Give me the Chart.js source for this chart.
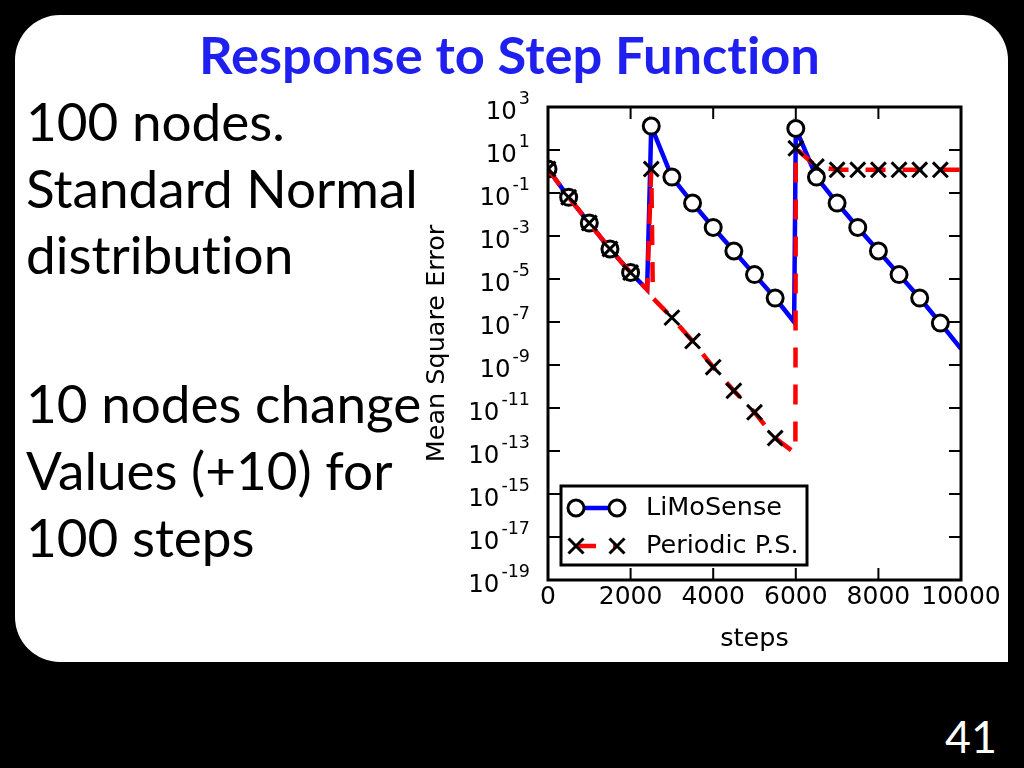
<!DOCTYPE html>
<html>
<head>
<meta charset="utf-8">
<title>Response to Step Function</title>
<script src="https://cdn.jsdelivr.net/npm/chart.js@4.4.1/dist/chart.umd.min.js"></script>
<style>
  html, body { margin: 0; padding: 0; background: #000; }
  body { width: 1024px; height: 768px; position: relative; overflow: hidden; font-family: Lato, "Open Sans", sans-serif; }
  #slide { position: absolute; left: 15px; top: 15px; width: 993px; height: 647px; background: #fff; border-radius: 45px 45px 0 45px; }
  .txt { position: absolute; white-space: nowrap; line-height: 1; font-variant-ligatures: none; font-feature-settings: "liga" 0; }
  #title { color: #1f1fef; font-weight: bold; }
  .body { left: 26px; color: #000; }
  #pageno { color: #fff; }
  #chartBox { position: absolute; left: 420px; top: 85px; width: 590px; height: 575px; }
</style>
</head>
<body>
<div id="slide"></div>
<div id="title" class="txt">Response to Step Function</div>
<div class="txt body" data-base="141">100 nodes.</div>
<div class="txt body" data-base="207.5" id="widest">Standard Normal</div>
<div class="txt body" data-base="274">distribution</div>
<div class="txt body" data-base="423">10 nodes change</div>
<div class="txt body" data-base="490">Values (+10) for</div>
<div class="txt body" data-base="557">100 steps</div>
<div id="pageno" class="txt">41</div>
<div id="chartBox"><canvas id="mseChart" width="590" height="575"></canvas></div>

<script>
// ---- data ----
// LiMoSense (blue line, circles every 500 steps)
const limoSteps = [0, 500, 1000, 1500, 2000, 2400, 2500, 3000, 3500, 4000, 4500, 5000, 5500,
                   5960, 6000, 6500, 7000, 7500, 8000, 8500, 9000, 9500, 10000];
const limoMse = [1.3, 6.3e-2, 4.0e-3, 2.5e-4, 2.0e-5, 3.2e-6, 130, 0.55, 3.4e-2, 2.5e-3, 2.0e-4, 1.6e-5, 1.3e-6,
                 1.0e-7, 100, 0.55, 3.4e-2, 2.5e-3, 2.0e-4, 1.6e-5, 1.3e-6, 8.9e-8, 5.6e-9];

// Periodic P.S. (red dashed line, crosses every 500 steps)
const ppsSteps = [0, 500, 1000, 1500, 2000, 2400, 2500, 2540, 3000, 3500, 4000, 4500, 5000, 5500,
                  5990, 6000, 6500, 7000, 7500, 8000, 8500, 9000, 9500, 10000];
const ppsMse = [1.3, 6.3e-2, 4.0e-3, 2.5e-4, 2.0e-5, 3.2e-6, 1.3, 1.3e-6, 1.6e-7, 1.3e-8, 7.9e-10, 6.3e-11, 6.3e-12, 4.0e-13,
                7.9e-14, 12, 1.7, 1.2, 1.2, 1.2, 1.2, 1.2, 1.2, 1.2];

const xTickValues = [0, 2000, 4000, 6000, 8000, 10000];
const yTickExponents = [3, 1, -1, -3, -5, -7, -9, -11, -13, -15, -17, -19];
const markEvery = 500;

// ---- slide text layout ----
function baselineOffset(el) {
  const probe = document.createElement('span');
  probe.style.display = 'inline-block';
  probe.style.height = '0px';
  el.appendChild(probe);
  const off = probe.getBoundingClientRect().top - el.getBoundingClientRect().top;
  el.removeChild(probe);
  return off;
}
function sizeForWidth(el, width) {
  el.style.fontSize = '100px';
  return 100 * width / el.getBoundingClientRect().width;
}

const title = document.getElementById('title');
title.style.fontSize = sizeForWidth(title, 621) + 'px';
title.style.left = (509.5 - title.getBoundingClientRect().width / 2) + 'px';
title.style.top = (74 - baselineOffset(title)) + 'px';

const bodySize = sizeForWidth(document.getElementById('widest'), 392);
document.querySelectorAll('.body').forEach(el => {
  el.style.fontSize = bodySize + 'px';
  el.style.top = (parseFloat(el.dataset.base) - baselineOffset(el)) + 'px';
});

const pageno = document.getElementById('pageno');
pageno.style.fontSize = sizeForWidth(pageno, 52) + 'px';
pageno.style.left = (997 - pageno.getBoundingClientRect().width) + 'px';
pageno.style.top = (753 - baselineOffset(pageno)) + 'px';

// ---- chart ----
const markerSize = r => ctx => (ctx.raw && ctx.raw.x % markEvery === 0 && ctx.raw.x < 10000 ? r : 0);

// inward ticks on all four sides plus the box
const framePlugin = {
  id: 'frame',
  afterDatasetsDraw(chart) {
    const { ctx, chartArea: a, scales } = chart;
    const len = 12;
    ctx.save();
    ctx.strokeStyle = '#000';
    ctx.lineWidth = 2;
    ctx.beginPath();
    scales.x.ticks.forEach(t => {
      const px = scales.x.getPixelForValue(t.value);
      ctx.moveTo(px, a.bottom); ctx.lineTo(px, a.bottom - len);
      ctx.moveTo(px, a.top); ctx.lineTo(px, a.top + len);
    });
    scales.y.ticks.forEach(t => {
      const py = scales.y.getPixelForValue(t.value);
      ctx.moveTo(a.left, py); ctx.lineTo(a.left + len, py);
      ctx.moveTo(a.right, py); ctx.lineTo(a.right - len, py);
    });
    ctx.stroke();
    ctx.lineWidth = 3;
    ctx.strokeRect(a.left, a.top, a.right - a.left, a.bottom - a.top);
    ctx.restore();
  }
};

// y tick labels as 10 with a raised exponent, like matplotlib mathtext
const powerLabels = {
  id: 'powerLabels',
  afterDraw(chart) {
    const { ctx, chartArea: a, scales } = chart;
    const right = a.left - 18;
    ctx.save();
    ctx.fillStyle = '#000';
    ctx.textAlign = 'right';
    ctx.textBaseline = 'alphabetic';
    scales.y.ticks.forEach(t => {
      const py = scales.y.getPixelForValue(t.value);
      const exp = String(Math.round(Math.log10(t.value)));
      ctx.font = '17.5px "DejaVu Sans"';
      const ew = ctx.measureText(exp).width;
      ctx.fillText(exp, right, py - 3.5);
      ctx.font = '24.5px "DejaVu Sans"';
      ctx.fillText('10', right - ew - 2, py + 11.5);
    });
    ctx.restore();
  }
};

// matplotlib-style legend box, bottom left inside the axes
const legendPlugin = {
  id: 'mplLegend',
  afterDraw(chart) {
    const { ctx, chartArea: a } = chart;
    const bx = a.left + 13, by = a.bottom - 15 - 79, bw = 246, bh = 79;
    ctx.save();
    ctx.fillStyle = '#fff';
    ctx.fillRect(bx, by, bw, bh);
    ctx.strokeStyle = '#000';
    ctx.lineWidth = 3;
    ctx.strokeRect(bx, by, bw, bh);

    const x1 = bx + 15, x2 = bx + 56;
    // LiMoSense row
    let y = by + 22;
    ctx.strokeStyle = '#0000ff';
    ctx.lineWidth = 4.5;
    ctx.beginPath(); ctx.moveTo(x1, y); ctx.lineTo(x2, y); ctx.stroke();
    [x1, x2].forEach(x => {
      ctx.beginPath(); ctx.arc(x, y, 8, 0, Math.PI * 2);
      ctx.fillStyle = '#fff'; ctx.fill();
      ctx.strokeStyle = '#000'; ctx.lineWidth = 3; ctx.stroke();
    });
    // Periodic P.S. row
    y = by + 60;
    ctx.strokeStyle = '#ff0000';
    ctx.lineWidth = 4.5;
    ctx.setLineDash([20, 17]);
    ctx.beginPath(); ctx.moveTo(x1, y); ctx.lineTo(x2, y); ctx.stroke();
    ctx.setLineDash([]);
    ctx.strokeStyle = '#000';
    ctx.lineWidth = 3;
    [x1, x2].forEach(x => {
      const d = 7.5;
      ctx.beginPath();
      ctx.moveTo(x - d, y - d); ctx.lineTo(x + d, y + d);
      ctx.moveTo(x - d, y + d); ctx.lineTo(x + d, y - d);
      ctx.stroke();
    });

    ctx.fillStyle = '#000';
    ctx.font = '25.5px "DejaVu Sans"';
    ctx.textBaseline = 'middle';
    ctx.fillText('LiMoSense', bx + 85, by + 22);
    ctx.fillText('Periodic P.S.', bx + 85, by + 60);
    ctx.restore();
  }
};

new Chart(document.getElementById('mseChart'), {
  type: 'line',
  data: {
    datasets: [
      {
        label: 'LiMoSense',
        data: limoSteps.map((s, i) => ({ x: s, y: limoMse[i] })),
        borderColor: '#0000ff',
        borderWidth: 4.5,
        pointStyle: 'circle',
        pointRadius: markerSize(8),
        pointBackgroundColor: '#fff',
        pointBorderColor: '#000',
        pointBorderWidth: 3,
        tension: 0,
        clip: 0,
        order: 1
      },
      {
        label: 'Periodic P.S.',
        data: ppsSteps.map((s, i) => ({ x: s, y: ppsMse[i] })),
        borderColor: '#ff0000',
        borderWidth: 4.5,
        borderDash: [20, 17],
        pointStyle: 'crossRot',
        pointRadius: markerSize(10.5),
        pointBackgroundColor: '#000',
        pointBorderColor: '#000',
        pointBorderWidth: 3,
        tension: 0,
        clip: 0,
        order: 0
      }
    ]
  },
  options: {
    responsive: false,
    animation: false,
    events: [],
    layout: { padding: { top: 22, right: 49, left: 0, bottom: 0 } },
    plugins: { legend: { display: false }, tooltip: { enabled: false } },
    scales: {
      x: {
        type: 'linear',
        min: 0,
        max: 10000,
        afterBuildTicks: s => { s.ticks = xTickValues.map(v => ({ value: v })); },
        afterFit: s => { s.height = 80; },
        ticks: { font: { family: 'DejaVu Sans', size: 25 }, color: '#000', padding: 2, maxRotation: 0, autoSkip: false, callback: v => String(v) },
        grid: { display: false, drawTicks: false },
        border: { display: false },
        title: { display: true, text: 'steps', font: { family: 'DejaVu Sans', size: 25.5 }, color: '#000', padding: { top: 0, bottom: 5 } }
      },
      y: {
        type: 'logarithmic',
        min: 1e-19,
        max: 1e3,
        afterBuildTicks: s => { s.ticks = yTickExponents.map(e => ({ value: Math.pow(10, e) })); },
        afterFit: s => { s.width = 128; },
        ticks: { display: false },
        grid: { display: false, drawTicks: false },
        border: { display: false },
        title: { display: true, text: 'Mean Square Error', font: { family: 'DejaVu Sans', size: 25.5 }, color: '#000', padding: { top: 2, bottom: 0 } }
      }
    }
  },
  plugins: [framePlugin, powerLabels, legendPlugin]
});
</script>
</body>
</html>
